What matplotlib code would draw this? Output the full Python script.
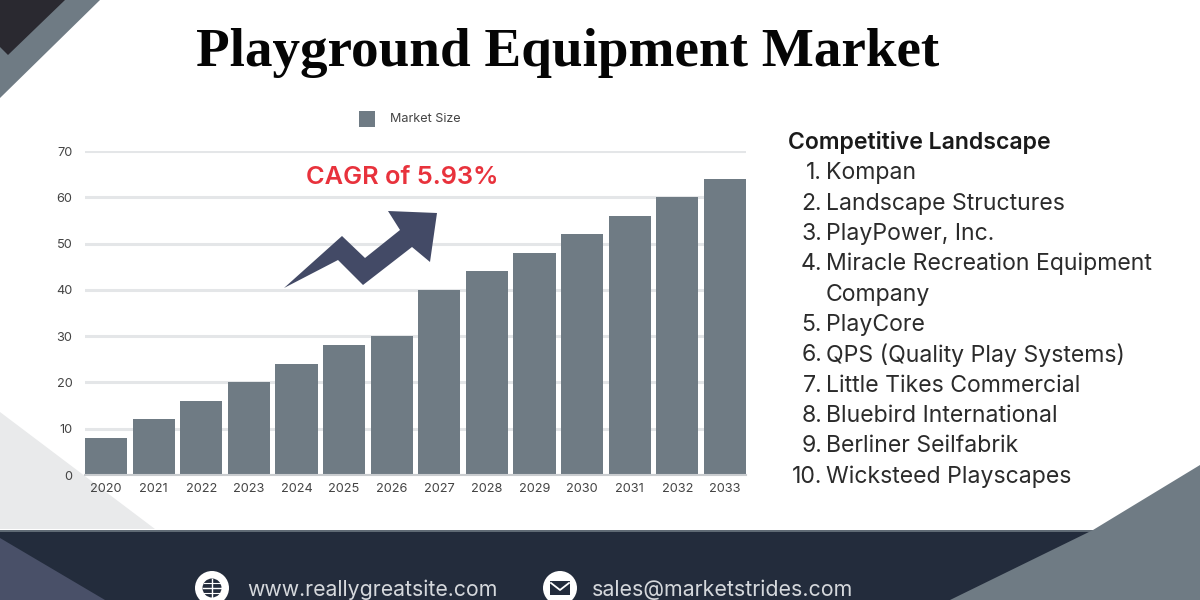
import matplotlib
matplotlib.use("Agg")
import matplotlib.pyplot as plt
from matplotlib.patches import Polygon, Circle, Rectangle

years = ['2020','2021','2022','2023','2024','2025','2026','2027','2028','2029','2030','2031','2032','2033']
market_size = [8,12,16,20,24,28,30,40,44,48,52,56,60,64]
yticks = [0,10,20,30,40,50,60,70]
series_name = 'Market Size'
title = 'Playground Equipment Market'
cagr = 'CAGR of 5.93%'
list_title = 'Competitive Landscape'
companies = ['Kompan','Landscape Structures','PlayPower, Inc.',
             'Miracle Recreation Equipment\nCompany','PlayCore',
             'QPS (Quality Play Systems)','Little Tikes Commercial',
             'Bluebird International','Berliner Seilfabrik','Wicksteed Playscapes']
company_y = [172,203,233,263,324,354,385,415,445,476]
site = 'www.reallygreatsite.com'
mail = 'sales@marketstrides.com'

GRAY = '#6f7b84'
DARK = '#232c3c'
W, H = 1200, 600

fig = plt.figure(figsize=(12, 6), dpi=100, facecolor='white')

bg = fig.add_axes([0, 0, 1, 1], zorder=0)
bg.set_xlim(0, W); bg.set_ylim(H, 0); bg.axis('off')
def poly(pts, c, z=1, a=None):
    bg.add_patch(Polygon(pts, closed=True, fc=c, ec='none', zorder=z, alpha=a))

poly([(0,0),(100,0),(0,98)], GRAY, 1)
poly([(0,0),(65,0),(8,55),(0,47)], '#2a2930', 2)
poly([(0,412),(155,529),(0,529)], '#e9eaeb', 1)
bg.add_patch(Rectangle((0,530), W, 70, fc=DARK, ec='none', zorder=1))
bg.add_patch(Rectangle((0,530), W, 2, fc='#5f6a74', ec='none', zorder=2))
poly([(0,538),(105,600),(0,600)], '#495068', 2)
poly([(1200,465),(1093,530),(950,600),(1200,600)], GRAY, 3)

bg.text(568, 66, title, family='Liberation Serif', weight='bold', fontsize=39.7,
        ha='center', va='baseline', color='#050505')
bg.text(402, 178, cagr, family='Inter', weight='semibold', fontsize=18.3,
        ha='center', va='center', color='#e8323c', zorder=5)

SANS = 'Inter'
bg.text(788, 143, list_title, family=SANS, weight='semibold', fontsize=16.6,
        ha='left', va='center', color='#1a1a1a')
for i, (name, yy) in enumerate(zip(companies, company_y), start=1):
    bg.text(822, yy+1, f'{i}.', family=SANS, fontsize=16.6, ha='right', va='center', color='#2b2b2b')
    parts = name.split('\n')
    for j, part in enumerate(parts):
        bg.text(826, yy + 1 + j*31, part, family=SANS, fontsize=16.6, ha='left', va='center', color='#2b2b2b')

for cx in (212, 560):
    bg.add_patch(Circle((cx, 588), 17, fc='white', ec='none', zorder=4))
bg.add_patch(Circle((212, 588), 9.5, fc=DARK, ec='none', zorder=5))
bg.plot([202.5,221.5],[588,588], color='white', lw=1, zorder=6)
bg.plot([212,212],[578.5,597.5], color='white', lw=1, zorder=6)
bg.plot([204,220],[583,583], color='white', lw=0.8, zorder=6)
bg.plot([204,220],[593,593], color='white', lw=0.8, zorder=6)
bg.add_patch(Rectangle((550,581), 20, 14, fc=DARK, ec='none', zorder=5))
bg.plot([551,560,569],[583,590,583], color='white', lw=1.3, zorder=6)
bg.text(247, 590, site, family=SANS, fontsize=15.3, ha='left', va='center', color='#d5d8dc', zorder=5)
bg.text(592, 590, mail, family=SANS, fontsize=15.4, ha='left', va='center', color='#d5d8dc', zorder=5)

L, R, T, B = 85, 746, 151, 475
ax = fig.add_axes([L/W, 1-B/H, (R-L)/W, (B-T)/H], zorder=1)
ax.patch.set_alpha(0)
x = list(range(len(years)))
ax.bar(x, market_size, width=0.885, color=GRAY, edgecolor='none', zorder=3, label=series_name)
ax.set_xlim(-0.443, 13.443)
ax.set_ylim(0, 70)
ax.set_yticks(yticks)
ax.set_xticks(x, years)
ax.grid(axis='y', color='#e4e6e8', lw=2.2, zorder=0)
ax.set_axisbelow(True)
for s in ax.spines.values():
    s.set_visible(False)
ax.tick_params(length=0, labelsize=9.2, labelcolor='#444444')
ax.tick_params(axis='y', pad=9)
ax.tick_params(axis='x', pad=6)
for lab in ax.get_xticklabels() + ax.get_yticklabels():
    lab.set_family(SANS)
ax.plot([-0.443, 13.443], [0, 0], color='#c9cccf', lw=1.5, zorder=4, clip_on=False)

bg.add_patch(Rectangle((359,111), 16, 16, fc=GRAY, ec='none', zorder=2))
bg.text(390, 119, series_name, family=SANS, fontsize=9.1, ha='left', va='center', color='#444444')

over = fig.add_axes([0, 0, 1, 1], zorder=3)
over.set_xlim(0, W); over.set_ylim(H, 0); over.axis('off'); over.patch.set_alpha(0)
over.add_patch(Polygon([(284,288),(342,236),(365,258),(400,230),(388,211),(437,213),
                        (430,262),(412,247),(363,285),(338,260)],
                       closed=True, fc='#434a66', ec='none'))

fig.savefig('out.png', dpi=100, facecolor='white')
